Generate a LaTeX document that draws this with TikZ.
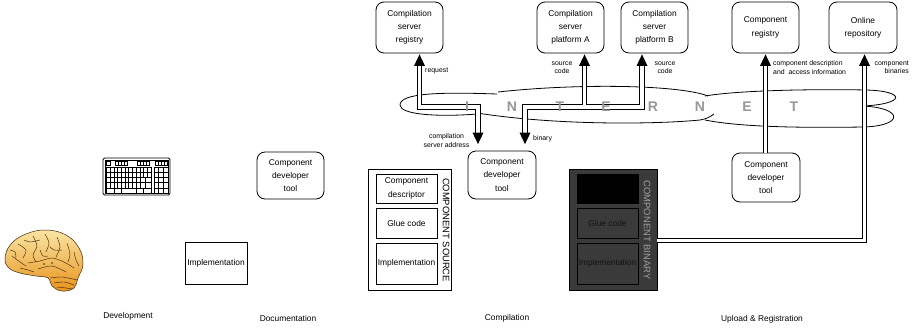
\documentclass[tikz,border=0pt]{standalone}
\usepackage{fontspec}
\setmainfont{Liberation Sans}
\usetikzlibrary{calc}
\definecolor{netgray}{HTML}{989898}
\definecolor{bingray}{HTML}{3A3A3A}
\definecolor{bintext}{HTML}{121212}
\definecolor{binlabel}{HTML}{A2A2A2}
\definecolor{brainlight}{HTML}{FBE6A4}
\definecolor{braindark}{HTML}{E8921C}
\definecolor{brainline}{HTML}{3E2A0C}
\newcommand\nodefont{\fontsize{8.4}{13.3}\selectfont}
\newcommand\smallfont{\fontsize{6.9}{8.4}\selectfont}
\newcommand\headup[1]{\fill[black] (#1) -- ++(-5.5,11.5) -- ++(11,0) -- cycle;}
\newcommand\headdown[1]{\fill[black] (#1) -- ++(-5.5,-11.5) -- ++(11,0) -- cycle;}
\begin{document}
\begin{tikzpicture}[x=1pt,y=-1pt,
  rbox/.style={draw, line width=0.8pt, rounded corners=8pt, fill=white,
    minimum width=67pt, minimum height=51pt, inner sep=0pt, align=center, font=\nodefont},
  sqbox/.style={draw, line width=0.8pt, inner sep=0pt, align=center, font=\nodefont},
  lbl/.style={font=\smallfont, inner sep=0pt, align=center},
  caption/.style={font=\nodefont, inner sep=0pt},
  vlabel/.style={rotate=-90, font=\fontsize{9.4}{9.4}\selectfont, inner sep=0pt},
  kb/.style={line width=0.45pt},
  gyrus/.style={draw=brainline, line width=0.45pt},
  pipeouter/.style={line width=5.4pt, draw=black},
  pipeinner/.style={line width=3.6pt, draw=white},
  cloud/.style={line width=0.8pt}]
\useasboundingbox (0,0) rectangle (913,330);
\fill[white] (0,0) rectangle (913,330);

% ---------------- Development: brain, keyboard, implementation
\shade[top color=brainlight, bottom color=braindark, draw=brainline, line width=0.5pt]
  plot[smooth cycle, tension=0.7] coordinates {(5,258) (11,244) (26,234) (46,230) (66,235)
  (79,248) (83,264) (78,278) (74,288) (62,291) (52,286) (48,278) (36,276) (20,273) (9,268)};
\draw[gyrus] plot[smooth] coordinates {(18,244) (26,250) (23,258)};
\draw[gyrus] plot[smooth] coordinates {(33,236) (37,246) (33,255) (36,262)};
\draw[gyrus] plot[smooth] coordinates {(45,234) (49,243) (46,252)};
\draw[gyrus] plot[smooth] coordinates {(57,237) (60,247) (56,257)};
\draw[gyrus] plot[smooth] coordinates {(67,243) (70,254) (68,262)};
\draw[gyrus] plot[smooth] coordinates {(12,256) (20,262) (26,266)};
\draw[gyrus] plot[smooth] coordinates {(28,263) (40,261) (52,258) (64,262) (74,268)};
\draw[gyrus] plot[smooth] coordinates {(38,269) (52,266) (66,272)};
\draw[gyrus] plot[smooth] coordinates {(50,278) (62,277) (77,280)};
\draw[gyrus] plot[smooth] coordinates {(54,283) (64,282) (74,285)};
\draw[gyrus] plot[smooth] coordinates {(57,287) (66,288) (72,289)};
\draw[gyrus] plot[smooth] coordinates {(24,240) (30,242) (40,240)};
\draw[gyrus] plot[smooth] coordinates {(50,247) (54,250) (62,250)};
\draw[gyrus] plot[smooth] coordinates {(10,250) (15,252) (16,258)};
\draw[gyrus] plot[smooth] coordinates {(40,250) (43,256) (48,256)};
\draw[gyrus] plot[smooth] coordinates {(74,252) (76,260) (79,266)};
\draw[gyrus] plot[smooth] coordinates {(20,268) (28,270) (34,272)};
\fill[brainline] (44,264) circle (0.9) (52,263) circle (0.9);

% keyboard
\draw[line width=0.8pt, rounded corners=1.5pt] (103,158) rectangle (170,195);
\draw[kb] (105,160) rectangle (168,193);
\draw[kb] (106.5,161.5) rectangle (110,165);
\foreach \x in {115,137,155}{
  \draw[kb] (\x,161.5) rectangle ++(12.5,3.5);
  \foreach \i in {1,2,3} \draw[kb] ({\x+\i*3.125},161.5) -- ++(0,3.5);
}
\draw[kb] (106.5,167) rectangle (151,193);
\foreach \y in {172.2,177.4,182.6,187.8} \draw[kb] (106.5,\y) -- (151,\y);
\foreach \x in {110.2,113.9,117.6,121.3,125,128.7,132.4,136.1,139.8}
  \draw[kb] (\x,167) -- (\x,187.8);
\foreach \x in {143.5,147.2} \draw[kb] (\x,167) -- (\x,177.4);
\draw[kb] (145,177.4) -- (145,187.8);
\foreach \x in {113.9,121.3,136.1,143.5} \draw[kb] (\x,187.8) -- (\x,193);
\draw[kb] (154,167) rectangle (168,193);
\foreach \x in {158.7,163.3} \draw[kb] (\x,167) -- (\x,193);
\foreach \y in {172.2,177.4,182.6,187.8} \draw[kb] (154,\y) -- (168,\y);

\node[sqbox, minimum width=62pt, minimum height=42pt] (impdev) at (216,263) {Implementation};

% ---------------- Documentation
\node[rbox, minimum width=67pt, minimum height=47pt] (cdtdoc) at (290.5,175.5) {Component\\developer\\tool};

% ---------------- Compilation
\node[rbox] (csr) at (409.5,27.5) {Compilation\\server\\registry};
\node[rbox] (cspa) at (570.5,27.5) {Compilation\\server\\platform A};
\node[rbox] (cspb) at (654.5,27.5) {Compilation\\server\\platform B};
\node[rbox, minimum width=68pt, minimum height=48pt] (cdtcomp) at (502,175) {Component\\developer\\tool};

% component source
\node[sqbox, minimum width=83pt, minimum height=121pt] (csrc) at (409.5,229.5) {};
\node[sqbox, minimum width=61pt, minimum height=29pt] (srcdesc) at (406.5,188.5) {Component\\descriptor};
\node[sqbox, minimum width=61pt, minimum height=30pt] (srcglue) at (406.5,223) {Glue code};
\node[sqbox, minimum width=61pt, minimum height=41pt] (srcimpl) at (406.5,263.5) {Implementation};
\node[vlabel] at (446,230) {COMPONENT SOURCE};

% component binary
\node[sqbox, fill=bingray, minimum width=88pt, minimum height=121pt] (cbin) at (613,229.5) {};
\node[sqbox, fill=black, minimum width=61pt, minimum height=29pt] (bindesc) at (607.5,188.5) {};
\node[sqbox, fill=bingray, text=bintext, minimum width=61pt, minimum height=30pt] (binglue) at (607.5,223) {Glue code};
\node[sqbox, fill=bingray, text=bintext, minimum width=61pt, minimum height=41pt] (binimpl) at (607.5,263.5) {Implementation};
\node[vlabel, text=binlabel] at (647,230) {COMPONENT BINARY};

% ---------------- Upload & Registration
\node[rbox] (creg) at (765.5,27.5) {Component\\registry};
\node[rbox, minimum width=68pt] (orep) at (863,27.5) {Online\\repository};
\node[rbox, minimum width=68pt, minimum height=49pt] (cdtup) at (766,177.5) {Component\\developer\\tool};

% ---------------- the internet cloud
\draw[cloud] (497,94) .. controls (440,92) and (400,93) .. (400,105)
  .. controls (400,115) and (440,117) .. (477,114);
\draw[cloud] (498,92) .. controls (580,83) and (680,85) .. (708,96);
\draw[cloud] (477,113) .. controls (560,126) and (660,124) .. (700,120)
  .. controls (706,119) and (710,117) .. (714,114);
\draw[cloud] (705,96) .. controls (740,90) and (820,89) .. (866,90)
  .. controls (906,91) and (906,104) .. (863,106)
  .. controls (904,108) and (904,126) .. (863,127)
  .. controls (800,128) and (740,127) .. (705,120);

% ---------------- connector end points
\coordinate (hy) at (0,107);
\coordinate (ly) at (0,240.5);
\path (csr.south) ++(10,1) coordinate (tReq) ++(0,11) coordinate (bReq);
\path (cspa.south) ++(14,1) coordinate (tA) ++(0,11) coordinate (bA);
\path (cspb.south) ++(-12.5,1) coordinate (tB) ++(0,11) coordinate (bB);
\path (cdtcomp.north) ++(-24,-6.5) coordinate (tAddr) ++(0,-11.5) coordinate (bAddr);
\path (cdtcomp.north) ++(23,-6.5) coordinate (tBin) ++(0,-11.5) coordinate (bBin);
\path (creg.south) ++(0,1) coordinate (tCR) ++(0,11) coordinate (bCR);
\path (orep.south) ++(1.5,1) coordinate (tOR) ++(0,11) coordinate (bOR);

% double-line connectors: outline pass, then the white core
\foreach \s in {pipeouter,pipeinner}{
  \draw[\s] (bReq) -- (bReq |- hy) -- (bAddr |- hy) -- (bAddr);
  \draw[\s] (bBin) -- (bBin |- hy) -- (bB |- hy) -- (bB);
  \draw[\s] (bA |- hy) -- (bA);
  \draw[\s] (bCR |- cdtup.north) -- (bCR);
  \draw[\s] (cbin.east |- ly) -- (bOR |- ly) -- (bOR);
}
\headup{tReq}
\headup{tA}
\headup{tB}
\headup{tCR}
\headup{tOR}
\headdown{tAddr}
\headdown{tBin}

% INTERNET lettering
\foreach \ch/\x in {I/467,N/512,T/560,E/606,R/653,N/700,E/747,T/794}
  \node[font=\fontsize{14}{14}\selectfont\bfseries, text=netgray, inner sep=0pt] at (\x,107) {\ch};

% connector labels
\node[lbl, anchor=west] at (425,71) {request};
\node[lbl] at (446.5,140.5) {compilation\\server address};
\node[lbl] at (562,67.5) {source\\code};
\node[lbl] at (665,67.5) {source\\code};
\node[lbl, anchor=west] at (533,139) {binary};
\node[lbl, anchor=west, align=left] at (773,67.5) {component description\\and\ \ access information};
\node[lbl, anchor=east, align=right] at (909,67.5) {component\\binaries};

% phase captions
\node[caption] at (128,316) {Development};
\node[caption] at (288,318) {Documentation};
\node[caption] at (507,318) {Compilation};
\node[caption] at (762,319) {Upload \& Registration};
\end{tikzpicture}
\end{document}
